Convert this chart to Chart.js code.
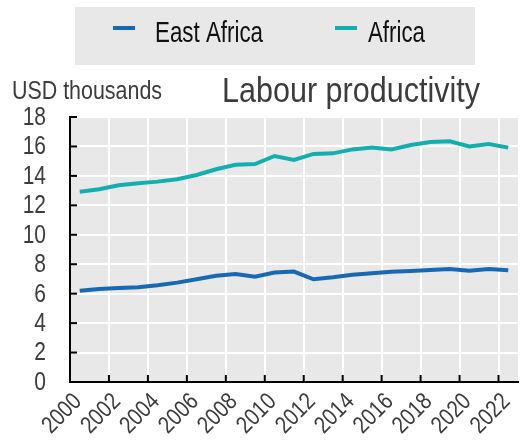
<!DOCTYPE html>
<html>
<head>
<meta charset="utf-8">
<script src="https://cdn.jsdelivr.net/npm/chart.js@4/dist/chart.umd.min.js"></script>
<style>
  html, body { margin: 0; padding: 0; background: #fff; }
  #wrap { width: 520px; height: 445px; }
</style>
</head>
<body>
<div id="wrap"><canvas id="prodChart" width="520" height="445"></canvas></div>
<script>
// Labour productivity, USD thousands per worker
const years = [2000, 2001, 2002, 2003, 2004, 2005, 2006, 2007, 2008, 2009, 2010, 2011,
               2012, 2013, 2014, 2015, 2016, 2017, 2018, 2019, 2020, 2021, 2022];
const eastAfrica = [6.2, 6.32, 6.39, 6.43, 6.57, 6.75, 6.98, 7.22, 7.34, 7.15, 7.43, 7.5,
                    6.98, 7.11, 7.29, 7.38, 7.49, 7.54, 7.6, 7.68, 7.56, 7.68, 7.59];
const africa = [12.93, 13.09, 13.36, 13.5, 13.61, 13.77, 14.06, 14.45, 14.75, 14.8, 15.35, 15.08,
                15.49, 15.53, 15.8, 15.92, 15.8, 16.1, 16.3, 16.35, 16.0, 16.17, 15.92];
const yTicks = [0, 2, 4, 6, 8, 10, 12, 14, 16, 18];
const xTicks = [2000, 2002, 2004, 2006, 2008, 2010, 2012, 2014, 2016, 2018, 2020, 2022];

const FONT = '"Liberation Sans", Arial, sans-serif';
const NARROW = 0.84; // squeeze Liberation Sans to roughly Arial Narrow width
const TEXT = '#3c3c3c';
const PANEL = '#e8e8e8';

// each year's value sits in the middle of its year
const toPoints = vals => years.map((yr, i) => ({ x: yr + 0.5, y: vals[i] }));

// write text squeezed horizontally; if width given, fit to that width
function narrowText(ctx, txt, x, y, size, opts = {}) {
  ctx.save();
  ctx.font = size + 'px ' + FONT;
  ctx.textAlign = opts.align || 'left';
  ctx.textBaseline = opts.baseline || 'alphabetic';
  ctx.fillStyle = opts.color || TEXT;
  const sx = opts.width ? opts.width / ctx.measureText(txt).width : NARROW;
  ctx.translate(x, y);
  if (opts.rotate) ctx.rotate(opts.rotate);
  ctx.scale(sx, 1);
  ctx.fillText(txt, 0, 0);
  ctx.restore();
}

const decorations = {
  id: 'decorations',
  beforeDraw(chart) {
    const { ctx, chartArea: a } = chart;
    ctx.save();
    ctx.fillStyle = PANEL;
    ctx.fillRect(a.left, a.top, a.right - a.left, a.bottom - a.top);
    // legend panel
    ctx.fillRect(75, 7, 400, 58);
    ctx.restore();
  },
  afterDraw(chart) {
    const { ctx, chartArea: a, scales } = chart;
    ctx.save();
    // inward tick marks and their labels
    ctx.strokeStyle = '#000';
    ctx.lineWidth = 2;
    yTicks.forEach(v => {
      const y = scales.y.getPixelForValue(v);
      ctx.beginPath(); ctx.moveTo(a.left, y); ctx.lineTo(a.left + 7, y); ctx.stroke();
      narrowText(ctx, String(v), 46, y + 1, 25, { align: 'right', baseline: 'middle' });
    });
    xTicks.forEach(v => {
      const x = scales.x.getPixelForValue(v);
      ctx.beginPath(); ctx.moveTo(x, a.bottom); ctx.lineTo(x, a.bottom - 7); ctx.stroke();
      narrowText(ctx, String(v), x + 8, a.bottom + 16, 24,
        { align: 'right', baseline: 'middle', rotate: -Math.PI / 4 });
    });

    // legend entries
    const items = [[113, 155, 108], [335, 368, 57]];
    chart.data.datasets.forEach((ds, i) => {
      const [sx, tx, w] = items[i];
      ctx.strokeStyle = ds.borderColor;
      ctx.lineWidth = 4;
      ctx.beginPath(); ctx.moveTo(sx, 28); ctx.lineTo(sx + 22, 28); ctx.stroke();
      narrowText(ctx, ds.label, tx, 41.5, 29, { width: w, color: '#111' });
    });

    // unit label and title
    narrowText(ctx, 'USD thousands', 12, 99, 26.5, { width: 150 });
    narrowText(ctx, 'Labour productivity', 222, 102, 34.5, { width: 258 });
    ctx.restore();
  }
};

new Chart(document.getElementById('prodChart'), {
  type: 'line',
  data: {
    datasets: [
      { label: 'East Africa', data: toPoints(eastAfrica), borderColor: '#1769b3', borderWidth: 4,
        pointRadius: 0, tension: 0 },
      { label: 'Africa', data: toPoints(africa), borderColor: '#12afae', borderWidth: 4,
        pointRadius: 0, tension: 0 }
    ]
  },
  options: {
    responsive: false,
    animation: false,
    layout: { padding: { top: 117, right: 2, left: 0, bottom: 0 } },
    plugins: { legend: { display: false }, tooltip: { enabled: false } },
    scales: {
      x: {
        type: 'linear',
        min: 2000,
        max: 2023,
        afterBuildTicks: s => { s.ticks = xTicks.map(v => ({ value: v })); },
        afterFit: s => { s.height = 63; },
        grid: { color: '#fff', lineWidth: 2, drawTicks: false },
        border: { color: '#000', width: 2 },
        ticks: { display: false }
      },
      y: {
        min: 0,
        max: 18,
        afterBuildTicks: s => { s.ticks = yTicks.map(v => ({ value: v })); },
        afterFit: s => { s.width = 70; },
        grid: { color: '#fff', lineWidth: 2, drawTicks: false },
        border: { color: '#000', width: 2 },
        ticks: { display: false }
      }
    }
  },
  plugins: [decorations]
});
</script>
</body>
</html>
